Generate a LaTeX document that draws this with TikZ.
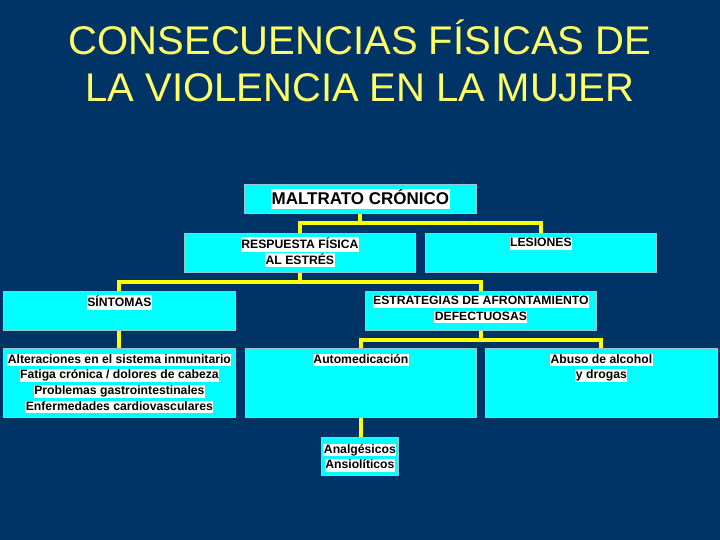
\documentclass[tikz,border=0pt]{standalone}
\usepackage{fontspec}
\setmainfont{Liberation Sans}
\usetikzlibrary{calc,backgrounds}
\definecolor{bgc}{RGB}{0,51,102}
\definecolor{boxc}{RGB}{0,255,255}
\definecolor{titlec}{RGB}{255,255,102}
\definecolor{linec}{RGB}{255,255,0}
\definecolor{edgec}{RGB}{150,200,210}
\newcommand\hlw[1]{{\setlength{\fboxsep}{0.5pt}\colorbox{white}{\rule[-0.22em]{0pt}{0.95em}#1}}}
\tikzset{
  cbox/.style={draw=edgec, line width=0.8pt, fill=boxc, anchor=north west, inner sep=0pt},
  txt/.style={anchor=north, inner sep=0pt, align=center, text=black,
     font=\fontsize{12.2}{15.7}\selectfont\bfseries},
  conn/.style={draw=linec, line width=4pt},
  ttl/.style={text=titlec, font=\fontsize{40}{47}\selectfont, align=center}
}
\begin{document}
\begin{tikzpicture}[x=1pt,y=-1pt]
\useasboundingbox (0,0) rectangle (720,540);
\node[ttl] (title) at (360,61) {CONSECUENCIAS FÍSICAS DE\\LA VIOLENCIA EN LA MUJER};
\coordinate (j1) at (360,223);
\coordinate (j2) at (300,282);
\coordinate (j3) at (480,340);
% boxes
\node[cbox, minimum width=232, minimum height=29] (mal) at (244,184) {};
\node[cbox, minimum width=231, minimum height=39] (resp) at (184,233) {};
\node[cbox, minimum width=231, minimum height=39] (les) at (425,233) {};
\node[cbox, minimum width=232, minimum height=39] (sin) at (3,291) {};
\node[cbox, minimum width=231, minimum height=39] (est) at (365,291) {};
\node[cbox, minimum width=232, minimum height=69] (alt) at (3,348) {};
\node[cbox, minimum width=231, minimum height=69] (aut) at (245,348) {};
\node[cbox, minimum width=232, minimum height=69] (abu) at (485,348) {};
\node[cbox, minimum width=77, minimum height=38] (ana) at (321,437) {};
% connectors behind boxes
\begin{pgfonlayer}{background}
\fill[bgc] (0,0) rectangle (720,540);
\draw[conn] (mal.south) -- (mal.south |- j1) -| (resp.north);
\draw[conn] (mal.south |- j1) -| (les.north);
\draw[conn] (resp.south) -- (resp.south |- j2) -| (sin.north);
\draw[conn] (resp.south |- j2) -| (est.north);
\draw[conn] (sin.south) -- (alt.north);
\draw[conn] (est.south) -- (est.south |- j3) -| (aut.north);
\draw[conn] (est.south |- j3) -| (abu.north);
\draw[conn] (aut.south) -- (aut.south |- ana.north);
\end{pgfonlayer}
% texts
\node[txt, font=\fontsize{17}{20}\selectfont\bfseries, anchor=center] (tmal) at (mal.center) {\hlw{MALTRATO CRÓNICO}};
\node[txt] (tresp) at ($(resp.north)+(0,4)$) {\hlw{RESPUESTA FÍSICA}\\\hlw{AL ESTRÉS}};
\node[txt] (tles) at ($(les.north)+(0,4)$) {\hlw{LESIONES}};
\node[txt] (tsin) at ($(sin.north)+(0,4)$) {\hlw{SÍNTOMAS}};
\node[txt] (test) at ($(est.north)+(0,4)$) {\hlw{ESTRATEGIAS DE AFRONTAMIENTO}\\\hlw{DEFECTUOSAS}};
\node[txt] (talt) at ($(alt.north)+(0,5.5)$) {\hlw{Alteraciones en el sistema inmunitario}\\\hlw{Fatiga crónica / dolores de cabeza}\\\hlw{Problemas gastrointestinales}\\\hlw{Enfermedades cardiovasculares}};
\node[txt] (taut) at ($(aut.north)+(0,5.5)$) {\hlw{Automedicación}};
\node[txt] (tabu) at ($(abu.north)+(0,5.5)$) {\hlw{Abuso de alcohol}\\\hlw{y drogas}};
\node[txt] (tana) at ($(ana.north)+(0,6.5)$) {\hlw{Analgésicos}\\\hlw{Ansiolíticos}};
\end{tikzpicture}
\end{document}
